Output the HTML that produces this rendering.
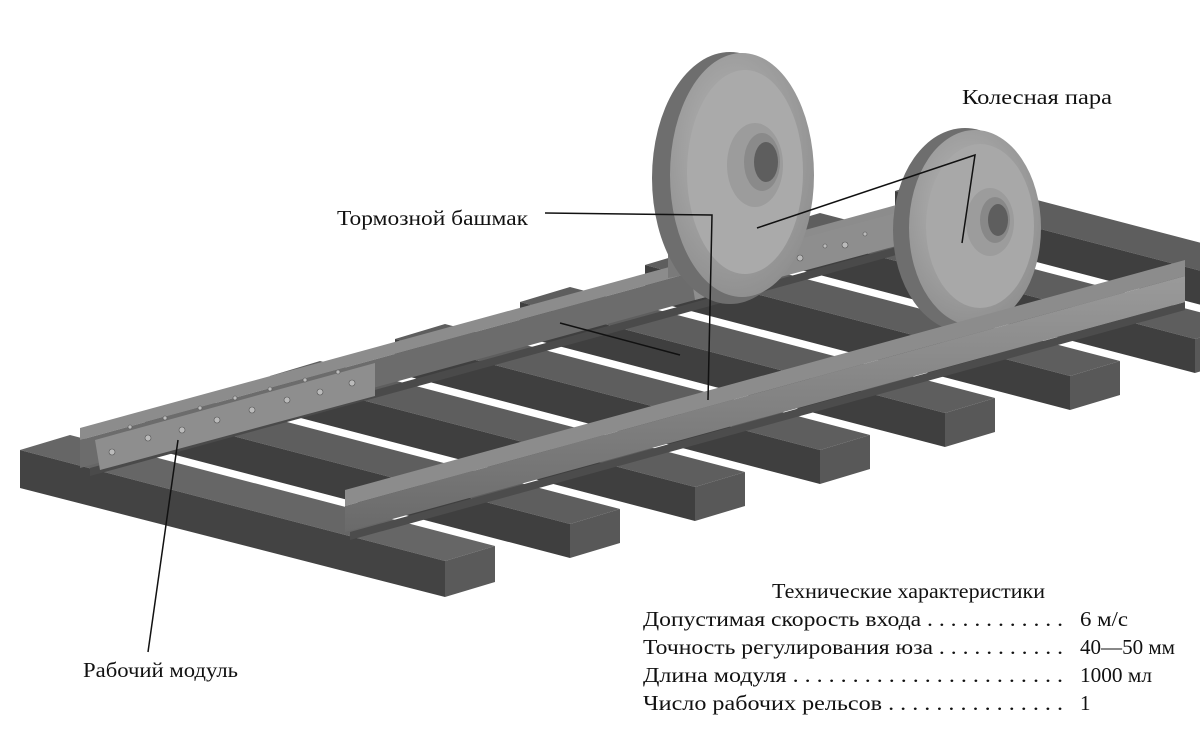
<!DOCTYPE html>
<html><head><meta charset="utf-8"><style>
html,body{margin:0;padding:0;background:#fff;}
svg{display:block}
text{font-family:"Liberation Serif",serif;fill:#111}
</style></head><body>
<svg width="1200" height="732" viewBox="0 0 1200 732" xmlns="http://www.w3.org/2000/svg">
<defs>
<radialGradient id="wg" cx="0.45" cy="0.4" r="0.7"><stop offset="0" stop-color="#b8b8b8"/><stop offset="1" stop-color="#8a8a8a"/></radialGradient>
<linearGradient id="rl" x1="0" y1="0" x2="0" y2="1"><stop offset="0" stop-color="#9a9a9a"/><stop offset="1" stop-color="#6a6a6a"/></linearGradient>
</defs>
<g>
<polygon points="895,191 1320,302 1370,287 945,176" fill="#5e5e5e"/>
<polygon points="895,191 1320,302 1320,336 895,225" fill="#3f3f3f"/>

<polygon points="770,228 1195,339 1245,324 820,213" fill="#5e5e5e"/>
<polygon points="770,228 1195,339 1195,373 770,262" fill="#3f3f3f"/>
<polygon points="1195,339 1245,324 1245,358 1195,373" fill="#585858"/>

<polygon points="645,265 1070,376 1120,361 695,250" fill="#5e5e5e"/>
<polygon points="645,265 1070,376 1070,410 645,299" fill="#3f3f3f"/>
<polygon points="1070,376 1120,361 1120,395 1070,410" fill="#585858"/>

<polygon points="520,302 945,413 995,398 570,287" fill="#5e5e5e"/>
<polygon points="520,302 945,413 945,447 520,336" fill="#3f3f3f"/>
<polygon points="945,413 995,398 995,432 945,447" fill="#585858"/>

<polygon points="395,339 820,450 870,435 445,324" fill="#5e5e5e"/>
<polygon points="395,339 820,450 820,484 395,373" fill="#3f3f3f"/>
<polygon points="820,450 870,435 870,469 820,484" fill="#585858"/>

<polygon points="270,376 695,487 745,472 320,361" fill="#5e5e5e"/>
<polygon points="270,376 695,487 695,521 270,410" fill="#3f3f3f"/>
<polygon points="695,487 745,472 745,506 695,521" fill="#585858"/>

<polygon points="145,413 570,524 620,509 195,398" fill="#5e5e5e"/>
<polygon points="145,413 570,524 570,558 145,447" fill="#3f3f3f"/>
<polygon points="570,524 620,509 620,543 570,558" fill="#585858"/>

<polygon points="20,450 445,561 495,546 70,435" fill="#666"/>
<polygon points="20,450 445,561 445,597 20,488" fill="#434343"/>
<polygon points="445,561 495,546 495,582 445,597" fill="#5a5a5a"/>
</g>
<!-- rail 1 -->
<polygon points="80,428 900,204 900,216 80,440" fill="#8c8c8c"/>
<polygon points="80,440 900,216 900,244 80,468" fill="#6c6c6c"/>
<polygon points="90,468 900,246 900,254 90,476" fill="#4a4a4a"/>
<!-- module plate -->
<polygon points="95,440 375,363 375,396 100,470" fill="#8e8e8e"/>
<polygon points="690,268 900,212 900,245 695,300" fill="#8e8e8e"/>
<g fill="#bbb" stroke="#555" stroke-width="0.6">
<circle cx="112" cy="452" r="3"/><circle cx="148" cy="438" r="3"/><circle cx="182" cy="430" r="3"/><circle cx="217" cy="420" r="3"/><circle cx="252" cy="410" r="3"/><circle cx="287" cy="400" r="3"/><circle cx="320" cy="392" r="3"/><circle cx="352" cy="383" r="3"/>
<circle cx="130" cy="427" r="2"/><circle cx="165" cy="418" r="2"/><circle cx="200" cy="408" r="2"/><circle cx="235" cy="398" r="2"/><circle cx="270" cy="389" r="2"/><circle cx="305" cy="380" r="2"/><circle cx="338" cy="372" r="2"/>
<circle cx="718" cy="282" r="3"/><circle cx="760" cy="268" r="3"/><circle cx="800" cy="258" r="3"/><circle cx="845" cy="245" r="3"/>
<circle cx="735" cy="270" r="2"/><circle cx="780" cy="258" r="2"/><circle cx="825" cy="246" r="2"/><circle cx="865" cy="234" r="2"/>
</g>
<!-- brake shoe -->
<polygon points="668,232 700,225 700,272 668,278" fill="#7a7a7a"/>
<!-- wheel 1 -->
<ellipse cx="730" cy="178" rx="78" ry="126" fill="#6e6e6e"/>
<ellipse cx="742" cy="175" rx="72" ry="122" fill="url(#wg)"/>
<ellipse cx="745" cy="172" rx="58" ry="102" fill="#aaa"/>
<ellipse cx="755" cy="165" rx="28" ry="42" fill="#9c9c9c"/>
<ellipse cx="762" cy="162" rx="18" ry="29" fill="#8a8a8a"/>
<ellipse cx="766" cy="162" rx="12" ry="20" fill="#5e5e5e"/>
<!-- wheel 2 -->
<ellipse cx="965" cy="230" rx="72" ry="102" fill="#6e6e6e"/>
<ellipse cx="975" cy="228" rx="66" ry="98" fill="url(#wg)"/>
<ellipse cx="980" cy="226" rx="54" ry="82" fill="#a8a8a8"/>
<ellipse cx="990" cy="222" rx="24" ry="34" fill="#9c9c9c"/>
<ellipse cx="995" cy="220" rx="15" ry="23" fill="#888"/>
<ellipse cx="998" cy="220" rx="10" ry="16" fill="#5e5e5e"/>
<!-- rail 2 -->
<polygon points="345,490 1185,260 1185,276 345,506" fill="#8c8c8c"/>
<polygon points="345,506 1185,276 1185,302 345,532" fill="url(#rl)"/>
<polygon points="350,532 1185,302 1185,310 350,540" fill="#4c4c4c"/>
<!-- leader lines -->
<g stroke="#111" stroke-width="1.5" fill="none">
<polyline points="545,213 712,215 708,400"/>
<polyline points="757,228 975,155 962,243"/>
<line x1="560" y1="323" x2="680" y2="355"/>
<line x1="148" y1="652" x2="178" y2="440"/>
</g>
<!-- labels -->
<g font-size="21">
<text x="337" y="225" textLength="191" lengthAdjust="spacingAndGlyphs">Тормозной башмак</text>
<text x="962" y="104" textLength="150" lengthAdjust="spacingAndGlyphs">Колесная пара</text>
<text x="83" y="677" textLength="155" lengthAdjust="spacingAndGlyphs">Рабочий модуль</text>
<text x="772" y="598" textLength="273" lengthAdjust="spacingAndGlyphs">Технические характеристики</text>
<text x="643" y="626" textLength="420" lengthAdjust="spacingAndGlyphs">Допустимая скорость входа  . . . . . . . . . . . .</text>
<text x="1080" y="626" textLength="48" lengthAdjust="spacingAndGlyphs">6 м/с</text>
<text x="643" y="654" textLength="420" lengthAdjust="spacingAndGlyphs">Точность регулирования юза  . . . . . . . . . . .</text>
<text x="1080" y="654" textLength="95" lengthAdjust="spacingAndGlyphs">40—50 мм</text>
<text x="643" y="682" textLength="420" lengthAdjust="spacingAndGlyphs">Длина модуля  . . . . . . . . . . . . . . . . . . . . . . .</text>
<text x="1080" y="682" textLength="72" lengthAdjust="spacingAndGlyphs">1000 мл</text>
<text x="643" y="710" textLength="420" lengthAdjust="spacingAndGlyphs">Число рабочих рельсов . . . . . . . . . . . . . . .</text>
<text x="1080" y="710">1</text>
</g>
</svg>
</body></html>
